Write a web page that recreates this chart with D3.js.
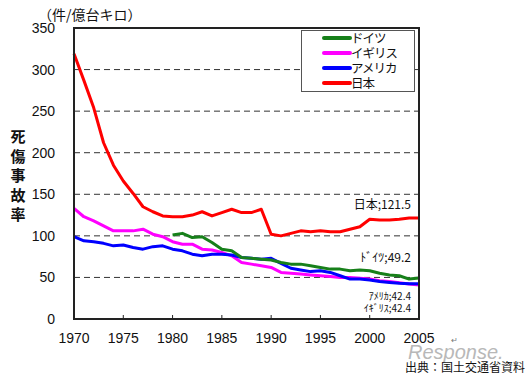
<!DOCTYPE html>
<html>
<head>
<meta charset="utf-8">
<script src="https://cdn.jsdelivr.net/npm/d3@7"></script>
<style>
  body { margin: 0; background: #fff; }
  text { font-family: "Liberation Sans", Arial, "Noto Sans CJK JP", sans-serif; fill: #111; }
  .jp { font-family: "Noto Sans CJK JP", sans-serif; }
</style>
</head>
<body>
<div id="chart"></div>
<script>
var years = d3.range(1970, 2006);
var japan = [319, 287, 254, 212, 185, 166, 151, 135, 129, 124, 123, 123, 125, 129, 124, 128, 132, 128, 128, 132,
             102, 100, 103, 106, 105, 106, 105, 105, 108, 111, 120, 119, 119, 120, 121.5, 121.5];
var uk = [133, 123, 118, 112, 106, 106, 106, 108, 102, 99, 93, 90, 90, 84, 83, 80, 76, 68, 66, 64,
          62, 56, 55, 54, 53, 52, 51, 50, 50, 49, 48, 46, 45, 43.5, 42, 41];
var usa = [99, 94, 93, 91, 88, 89, 86, 84, 87, 88, 84, 82, 78, 76, 78, 78, 77, 74, 73, 72,
           73, 67, 61, 59, 57, 58, 56, 52, 48, 48, 47, 45, 44, 43, 42.5, 42.4];
var germany = [null, null, null, null, null, null, null, null, null, null,
               101, 103, 98, 99, 92, 84, 82, 74, 73, 72, 71, 68, 66, 66, 64, 62, 60, 60, 58, 59,
               58, 55, 53, 52, 48, 49.2];
var seriesNames = ["ドイツ", "イギリス", "アメリカ", "日本"];
var seriesColors = ["#17801a", "#ff00ff", "#0000ff", "#ff0000"];
var yTicks = [0, 50, 100, 150, 200, 250, 300, 350];
var xTicks = [1970, 1975, 1980, 1985, 1990, 1995, 2000, 2005];
var endLabels = [
  {text: "日本;121.5", value: 121.5, dy: -9, size: 12},
  {text: "ﾄﾞｲﾂ;49.2", value: 49.2, dy: -16, size: 12},
  {text: "ｱﾒﾘｶ;42.4", value: 42.4, dy: 16.5, size: 10},
  {text: "ｲｷﾞﾘｽ;42.4", value: 42.4, dy: 28, size: 10}
];

var width = 528, height = 374;
var margin = {top: 28, right: 109, bottom: 55, left: 74};

var svg = d3.select("#chart").append("svg")
    .attr("width", width)
    .attr("height", height);

var x = d3.scaleLinear().domain([1970, 2005]).range([margin.left, width - margin.right]);
var y = d3.scaleLinear().domain([0, 350]).range([height - margin.bottom, margin.top]);

// dashed grid lines
svg.append("g")
  .selectAll("line")
  .data(yTicks.filter(function(d) { return d > 0 && d < 350; }))
  .enter().append("line")
    .attr("x1", x(1970)).attr("x2", x(2005))
    .attr("y1", function(d) { return y(d); })
    .attr("y2", function(d) { return y(d); })
    .attr("stroke", "#333")
    .attr("stroke-width", 1)
    .attr("stroke-dasharray", "6,4");

// x ticks pointing inward
svg.append("g")
  .selectAll("line")
  .data(xTicks)
  .enter().append("line")
    .attr("x1", function(d) { return x(d); })
    .attr("x2", function(d) { return x(d); })
    .attr("y1", y(0)).attr("y2", y(0) - 4)
    .attr("stroke", "#222");

// series lines
var line = d3.line()
    .defined(function(d) { return d != null; })
    .x(function(d, i) { return x(years[i]); })
    .y(function(d) { return y(d); });

var allSeries = [germany, uk, usa, japan];
// japan first, then uk, usa, germany
[3, 1, 2, 0].forEach(function(k) {
  svg.append("path")
    .datum(allSeries[k])
    .attr("d", line)
    .attr("fill", "none")
    .attr("stroke", seriesColors[k])
    .attr("stroke-width", 3)
    .attr("stroke-linejoin", "round");
});

// frame
svg.append("rect")
    .attr("x", x(1970)).attr("y", y(350))
    .attr("width", x(2005) - x(1970))
    .attr("height", y(0) - y(350))
    .attr("fill", "none")
    .attr("stroke", "#222")
    .attr("stroke-width", 2);

// y tick labels
svg.append("g")
  .selectAll("text")
  .data(yTicks)
  .enter().append("text")
    .attr("x", 55)
    .attr("y", function(d) { return y(d) + 5; })
    .attr("text-anchor", "end")
    .style("font-size", "14px")
    .text(function(d) { return d; });

// x tick labels
svg.append("g")
  .selectAll("text")
  .data(xTicks)
  .enter().append("text")
    .attr("x", function(d) { return x(d); })
    .attr("y", 343)
    .attr("text-anchor", "middle")
    .style("font-size", "14px")
    .text(function(d) { return d; });

// unit label
svg.append("text")
    .attr("class", "jp")
    .attr("x", 38).attr("y", 20)
    .style("font-size", "14px")
    .text("（件/億台キロ）");

// vertical axis title
var title = "死傷事故率".split("");
svg.append("g")
  .selectAll("text")
  .data(title)
  .enter().append("text")
    .attr("class", "jp")
    .attr("x", 18)
    .attr("y", function(d, i) { return 142 + i * 19.5; })
    .attr("text-anchor", "middle")
    .style("font-size", "15px")
    .style("font-weight", "bold")
    .text(function(d) { return d; });

// legend
var legend = svg.append("g");
legend.append("rect")
    .attr("x", 301.5).attr("y", 30.5)
    .attr("width", 113).attr("height", 61)
    .attr("fill", "#fff")
    .attr("stroke", "#555")
    .attr("stroke-width", 1);
seriesNames.forEach(function(name, i) {
  var ly = 38 + i * 15;
  legend.append("line")
      .attr("x1", 324).attr("x2", 350)
      .attr("y1", ly).attr("y2", ly)
      .attr("stroke", seriesColors[i])
      .attr("stroke-width", 4)
      .attr("stroke-linecap", "round");
  legend.append("text")
      .attr("class", "jp")
      .attr("x", 351).attr("y", ly + 5)
      .style("font-size", "12.5px")
      .style("letter-spacing", "-1px")
      .text(name);
});

// end-value annotations
svg.append("g")
  .selectAll("text")
  .data(endLabels)
  .enter().append("text")
    .attr("class", "jp")
    .attr("x", 411)
    .attr("y", function(d) { return y(d.value) + d.dy; })
    .attr("text-anchor", "end")
    .style("font-size", function(d) { return d.size + "px"; })
    .text(function(d) { return d.text; });

// watermark and source
svg.append("text")
    .attr("x", 408).attr("y", 359)
    .style("font-size", "20px")
    .style("font-style", "italic")
    .style("fill", "#b8b8b8")
    .text("Response.");
svg.append("text")
    .attr("x", 451).attr("y", 343)
    .style("font-size", "8px")
    .style("fill", "#777")
    .text("↵");
svg.append("text")
    .attr("class", "jp")
    .attr("x", 405).attr("y", 372)
    .style("font-size", "12px")
    .attr("textLength", 120)
    .text("出典：国土交通省資料");
</script>
</body>
</html>
